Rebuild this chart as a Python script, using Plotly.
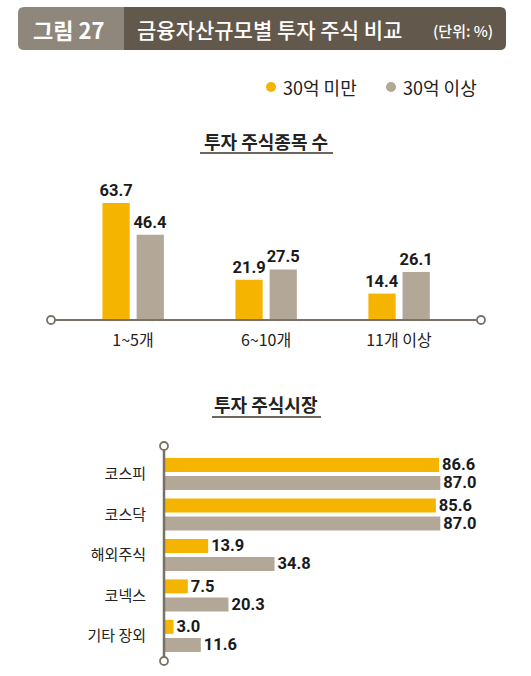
import plotly.graph_objects as go

# ---- data ----
series_names = ["30억 미만", "30억 이상"]
count_categories = ["1~5개", "6~10개", "11개 이상"]
count_under30 = [63.7, 21.9, 14.4]
count_over30 = [46.4, 27.5, 26.1]

market_categories = ["코스피", "코스닥", "해외주식", "코넥스", "기타 장외"]
market_under30 = [86.6, 85.6, 13.9, 7.5, 3.0]
market_over30 = [87.0, 87.0, 34.8, 20.3, 11.6]

W, H = 531, 676
YELLOW = "#F5B400"
GRAY = "#B3A897"
AXIS = "#7A7166"
KR = "Noto Sans CJK KR, Noto Sans, sans-serif"
NUM = "Roboto, Noto Sans, sans-serif"
NUMFONT = dict(family=NUM, size=16.5, color="#1a1a1a", weight="bold")


def px(x):
    return x / W


def py(y):
    return 1 - y / H


fig = go.Figure()

# ---- chart 1: vertical bars ----
fig.add_trace(go.Bar(
    x=count_categories, y=count_under30, name=series_names[0],
    marker=dict(color=YELLOW, line=dict(width=0)),
    width=0.205, offset=-0.23,
    text=[f"{v:.1f}" for v in count_under30], textposition="outside",
    textfont=NUMFONT, constraintext="none",
    cliponaxis=False, xaxis="x", yaxis="y", showlegend=False,
))
fig.add_trace(go.Bar(
    x=count_categories, y=count_over30, name=series_names[1],
    marker=dict(color=GRAY, line=dict(width=0)),
    width=0.205, offset=0.027,
    text=[f"{v:.1f}" for v in count_over30], textposition="outside",
    textfont=NUMFONT, constraintext="none",
    cliponaxis=False, xaxis="x", yaxis="y", showlegend=False,
))

# ---- chart 2: horizontal bars ----
fig.add_trace(go.Bar(
    y=market_categories, x=market_under30, orientation="h", name=series_names[0],
    marker=dict(color=YELLOW, line=dict(width=0)),
    width=0.345, offset=-0.395,
    text=[f"{v:.1f}" for v in market_under30], textposition="outside",
    textfont=NUMFONT, constraintext="none",
    cliponaxis=False, xaxis="x2", yaxis="y2", showlegend=False,
))
fig.add_trace(go.Bar(
    y=market_categories, x=market_over30, orientation="h", name=series_names[1],
    marker=dict(color=GRAY, line=dict(width=0)),
    width=0.345, offset=0.05,
    text=[f"{v:.1f}" for v in market_over30], textposition="outside",
    textfont=NUMFONT, constraintext="none",
    cliponaxis=False, xaxis="x2", yaxis="y2", showlegend=False,
))

shapes = []
annotations = []

# header
def rounded_path(x0, y0, x1, y1, r, left=True, right=True):
    X0, X1 = px(x0), px(x1)
    Y0, Y1 = py(y0), py(y1)
    rx, ry = r / W, r / H
    p = ""
    if left:
        p += f"M{X0+rx},{Y0} "
    else:
        p += f"M{X0},{Y0} "
    if right:
        p += f"L{X1-rx},{Y0} Q{X1},{Y0} {X1},{Y0-ry} L{X1},{Y1+ry} Q{X1},{Y1} {X1-rx},{Y1} "
    else:
        p += f"L{X1},{Y0} L{X1},{Y1} "
    if left:
        p += f"L{X0+rx},{Y1} Q{X0},{Y1} {X0},{Y1+ry} L{X0},{Y0-ry} Q{X0},{Y0} {X0+rx},{Y0} Z"
    else:
        p += f"L{X0},{Y1} Z"
    return p

shapes.append(dict(type="path", xref="paper", yref="paper",
                   path=rounded_path(18, 7, 124, 50, 6, left=True, right=False),
                   fillcolor="#8F877B", line=dict(width=0), layer="below"))
shapes.append(dict(type="path", xref="paper", yref="paper",
                   path=rounded_path(124, 7, 506, 50, 6, left=False, right=True),
                   fillcolor="#62584B", line=dict(width=0), layer="below"))
annotations.append(dict(text="<b>그림 27</b>", x=px(68), y=py(29), xref="paper", yref="paper",
                        showarrow=False, xanchor="center", yanchor="middle",
                        font=dict(family=KR, size=22, color="white")))
annotations.append(dict(text="금융자산규모별 투자 주식 비교", x=px(135), y=py(29), xref="paper", yref="paper",
                        showarrow=False, xanchor="left", yanchor="middle",
                        font=dict(family=KR, size=21, color="white", weight=500)))
annotations.append(dict(text="(단위: %)", x=px(495), y=py(30), xref="paper", yref="paper",
                        showarrow=False, xanchor="right", yanchor="middle",
                        font=dict(family=KR, size=15, color="white", weight=500)))

# legend
for cx, col, label in [(271, YELLOW, series_names[0]), (391, GRAY, series_names[1])]:
    shapes.append(dict(type="circle", xref="paper", yref="paper",
                       x0=px(cx - 5), x1=px(cx + 5), y0=py(92), y1=py(82),
                       fillcolor=col, line=dict(width=0)))
    annotations.append(dict(text=label, x=px(cx + 10), y=py(87), xref="paper", yref="paper",
                            showarrow=False, xanchor="left", yanchor="middle",
                            font=dict(family=KR, size=18, color="#222")))

# sub-titles with underline
for cx, cy, uy, x0, x1, t in [(266, 141, 153, 200, 333, "투자 주식종목 수"),
                              (266, 404, 417, 212, 321, "투자 주식시장")]:
    annotations.append(dict(text=f"<b>{t}</b>", x=px(cx), y=py(cy), xref="paper", yref="paper",
                            showarrow=False, xanchor="center", yanchor="middle",
                            font=dict(family=KR, size=18, color="#222")))
    shapes.append(dict(type="line", xref="paper", yref="paper",
                       x0=px(x0), x1=px(x1), y0=py(uy), y1=py(uy),
                       line=dict(color="#6E665C", width=2)))

# axis lines with circle ends
shapes.append(dict(type="line", xref="paper", yref="paper",
                   x0=px(51), x1=px(481), y0=py(320), y1=py(320),
                   line=dict(color=AXIS, width=2), layer="above"))
for cx in (51, 481):
    shapes.append(dict(type="circle", xref="paper", yref="paper",
                       x0=px(cx - 4), x1=px(cx + 4), y0=py(324), y1=py(316),
                       fillcolor="white", line=dict(color=AXIS, width=1.8), layer="above"))
shapes.append(dict(type="line", xref="paper", yref="paper",
                   x0=px(164), x1=px(164), y0=py(446), y1=py(661),
                   line=dict(color=AXIS, width=2.5), layer="above"))
for cy in (446, 661):
    shapes.append(dict(type="circle", xref="paper", yref="paper",
                       x0=px(160), x1=px(168), y0=py(cy + 4), y1=py(cy - 4),
                       fillcolor="white", line=dict(color=AXIS, width=1.8), layer="above"))

fig.update_layout(
    width=W, height=H, autosize=False,
    margin=dict(l=0, r=0, t=0, b=0, pad=0),
    paper_bgcolor="white", plot_bgcolor="rgba(0,0,0,0)",
    barmode="overlay",
    shapes=shapes, annotations=annotations,
    xaxis=dict(domain=[px(51), px(481)], range=[-0.617, 2.617], type="category",
               showgrid=False, zeroline=False, showline=False, ticks="outside", ticklen=6,
               tickcolor="rgba(0,0,0,0)",
               tickfont=dict(family=KR, size=16, color="#222"), anchor="y", fixedrange=True),
    yaxis=dict(domain=[py(320), py(191.4)], range=[0, 70], visible=False, anchor="x", fixedrange=True),
    xaxis2=dict(domain=[px(164), px(481.6)], range=[0, 100], visible=False, anchor="y2", fixedrange=True),
    yaxis2=dict(domain=[py(661), py(446)], range=[4.62, -0.69], type="category",
                showgrid=False, zeroline=False, showline=False, ticks="outside", ticklen=14,
                tickcolor="rgba(0,0,0,0)",
                tickfont=dict(family=KR, size=15, color="#222"), anchor="x2", fixedrange=True),
)

fig.write_html("out.html", config=dict(displayModeBar=False),
               post_script="document.body.style.margin='0';document.body.style.overflow='hidden';")
